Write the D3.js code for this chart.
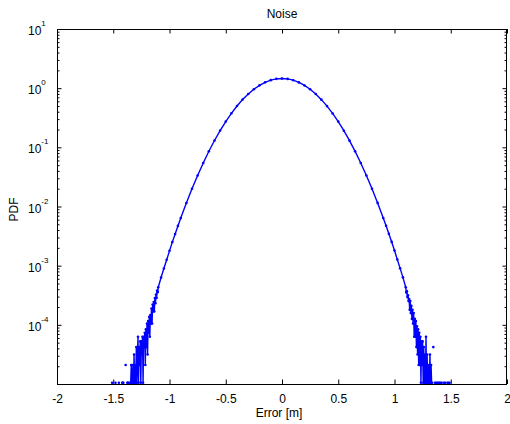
<!DOCTYPE html>
<html>
<head>
<meta charset="utf-8">
<script src="https://cdn.jsdelivr.net/npm/d3@7"></script>
<style>
	body { margin: 0; background: #fff; }
	svg { display: block; font-family: "Liberation Sans", Arial, sans-serif; }
</style>
</head>
<body>
<div id="chart"></div>
<script>
// Tick values
const xTicks = [-2, -1.5, -1, -0.5, 0, 0.5, 1, 1.5, 2]
const yTickExponents = [-4, -3, -2, -1, 0, 1]

// PDF samples: [error in m, pdf] (null = empty bin)
const leftTail = [
	[-1.51, 1.05e-5], [-1.5, null], [-1.48, 1.05e-5], [-1.47, null], [-1.45, 1.05e-5], [-1.44, null],
	[-1.42, 1.05e-5], [-1.415, 1.05e-5], [-1.41, 1.05e-5], [-1.4, null], [-1.39, 2.1e-5], [-1.385, null],
	[-1.375, 1.05e-5], [-1.37, 1.05e-5], [-1.365, 1.05e-5], [-1.36, null], [-1.35, 1.05e-5], [-1.345, 1.05e-5],
	[-1.34, 2.1e-5], [-1.335, 1.05e-5], [-1.33, 1.05e-5], [-1.325, 2.1e-5], [-1.32, 1.05e-5], [-1.315, 3.15e-5],
	[-1.31, 1.05e-5], [-1.305, 2.1e-5], [-1.3, 1.05e-5], [-1.295, 4.2e-5], [-1.29, 1.05e-5], [-1.285, 3.15e-5],
	[-1.28, 6.3e-5], [-1.275, 1.05e-5], [-1.27, 4.2e-5], [-1.265, 2.1e-5], [-1.26, 5.25e-5], [-1.255, 1.05e-5],
	[-1.25, 5.25e-5], [-1.245, 3.15e-5], [-1.24, 6.3e-5], [-1.235, 1.05e-5], [-1.23, 6.3e-5], [-1.225, 4.2e-5],
	[-1.22, 7.35e-5], [-1.215, 2.1e-5], [-1.21, 8.4e-5], [-1.205, 4.2e-5], [-1.2, 1.05e-4], [-1.195, 3.15e-5],
	[-1.19, 1.16e-4], [-1.185, 7.35e-5], [-1.18, 1.37e-4], [-1.175, 6.3e-5], [-1.17, 1.47e-4], [-1.165, 1.05e-4],
	[-1.16, 1.89e-4], [-1.155, 1.05e-4], [-1.15, 2.2e-4], [-1.145, 1.68e-4], [-1.14, 2.42e-4], [-1.135, 1.68e-4],
	[-1.13, 2.84e-4], [-1.125, 2.31e-4], [-1.12, 3.26e-4], [-1.115, 2.84e-4], [-1.11, 3.78e-4], [-1.105, 3.57e-4],
	[-1.1, 4.31e-4],
]

const body = [
	[-1.075, 6.3e-4], [-1.05, 8.95e-4], [-1.025, 1.26e-3], [-1, 1.78e-3], [-0.975, 2.5e-3], [-0.95, 3.42e-3],
	[-0.925, 4.7e-3], [-0.9, 6.37e-3], [-0.85, 1.146e-2], [-0.8, 1.99e-2], [-0.75, 3.35e-2], [-0.7, 5.45e-2],
	[-0.65, 8.57e-2], [-0.6, 0.1304], [-0.55, 0.192], [-0.5, 0.273], [-0.45, 0.375], [-0.4, 0.499],
	[-0.35, 0.642], [-0.3, 0.798], [-0.25, 0.96], [-0.2, 1.116], [-0.15, 1.255], [-0.1, 1.366],
	[-0.05, 1.436], [0, 1.46], [0.05, 1.434], [0.1, 1.364], [0.15, 1.252], [0.2, 1.112],
	[0.25, 0.957], [0.3, 0.796], [0.35, 0.64], [0.4, 0.498], [0.45, 0.374], [0.5, 0.272],
	[0.55, 0.191], [0.6, 0.1298], [0.65, 8.55e-2], [0.7, 5.44e-2], [0.75, 3.35e-2], [0.8, 1.99e-2],
	[0.85, 1.15e-2], [0.9, 6.4e-3], [0.925, 4.72e-3], [0.95, 3.45e-3], [0.975, 2.52e-3], [1, 1.8e-3],
	[1.025, 1.27e-3], [1.05, 9e-4], [1.075, 6.35e-4],
]

const rightTail = [
	[1.1, 4.31e-4], [1.105, 3.57e-4], [1.11, 3.68e-4], [1.115, 2.94e-4], [1.12, 3.15e-4], [1.125, 2.52e-4],
	[1.13, 2.73e-4], [1.135, 1.79e-4], [1.14, 2.52e-4], [1.145, 1.58e-4], [1.15, 2.1e-4], [1.155, 1.26e-4],
	[1.16, 1.79e-4], [1.165, 1.05e-4], [1.17, 1.58e-4], [1.175, 6.3e-5], [1.18, 1.26e-4], [1.185, 6.3e-5],
	[1.19, 1.16e-4], [1.195, 4.2e-5], [1.2, 9.45e-5], [1.205, 3.15e-5], [1.21, 8.4e-5], [1.215, 2.1e-5],
	[1.22, 7.35e-5], [1.225, 2.1e-5], [1.23, 6.3e-5], [1.235, 1.05e-5], [1.24, 5.25e-5], [1.245, 2.1e-5],
	[1.25, 5.25e-5], [1.255, 1.05e-5], [1.26, 4.2e-5], [1.265, 1.05e-5], [1.27, 3.15e-5], [1.275, 1.05e-5],
	[1.28, 6.3e-5], [1.285, 1.05e-5], [1.29, 3.15e-5], [1.295, 1.05e-5], [1.3, 2.1e-5], [1.305, 1.05e-5],
	[1.31, 1.05e-5], [1.315, 3.15e-5], [1.32, 1.05e-5], [1.325, 2.1e-5], [1.33, 1.05e-5], [1.335, 1.05e-5],
	[1.34, null], [1.345, 4.2e-5], [1.35, null], [1.36, 1.05e-5], [1.37, 1.05e-5], [1.38, 1.05e-5],
	[1.39, 1.05e-5], [1.4, 1.05e-5], [1.41, 1.05e-5], [1.42, 1.05e-5], [1.43, null], [1.44, 1.05e-5],
	[1.45, 1.05e-5], [1.46, null], [1.47, 1.05e-5], [1.48, 1.05e-5], [1.49, 1.05e-5],
]

const pdfData = leftTail.concat(body, rightTail)

function renderNoiseChart() {
	const width = 510
	const height = 424
	const margin = { top: 29, right: 3, bottom: 40, left: 57 }
	const innerLeft = margin.left
	const innerRight = width - margin.right
	const innerTop = margin.top
	const innerBottom = height - margin.bottom
	const fontSize = "12px"

	const svg = d3
		.select("#chart")
		.append("svg")
		.attr("width", width)
		.attr("height", height)

	const x = d3.scaleLinear().domain([-2, 2]).range([innerLeft, innerRight])
	const y = d3.scaleLog().domain([1e-5, 10]).range([innerBottom, innerTop])

	// Minor log ticks (2..9 of each decade)
	const minorTicks = []
	for (let e = -5; e < 1; e++) {
		for (let m = 2; m <= 9; m++) minorTicks.push(m * Math.pow(10, e))
	}

	// Bottom and top x ticks (inside)
	const xAxisBottom = svg.append("g")
		.attr("transform", `translate(0,${innerBottom})`)
		.call(d3.axisBottom(x).tickValues(xTicks).tickSizeInner(-4.5).tickSizeOuter(0).tickPadding(10).tickFormat((d) => d))
	xAxisBottom.select(".domain").remove()

	svg.append("g")
		.attr("transform", `translate(0,${innerTop})`)
		.call(d3.axisTop(x).tickValues(xTicks).tickSizeInner(-4.5).tickSizeOuter(0).tickFormat(""))
		.select(".domain").remove()

	// Left and right y ticks (inside)
	const decades = yTickExponents.map((e) => Math.pow(10, e))
	svg.append("g")
		.attr("transform", `translate(${innerLeft},0)`)
		.call(d3.axisLeft(y).tickValues(decades).tickSizeInner(-4.5).tickSizeOuter(0).tickFormat(""))
		.select(".domain").remove()
	svg.append("g")
		.attr("transform", `translate(${innerLeft},0)`)
		.call(d3.axisLeft(y).tickValues(minorTicks).tickSizeInner(-2.5).tickSizeOuter(0).tickFormat(""))
		.select(".domain").remove()
	svg.append("g")
		.attr("transform", `translate(${innerRight},0)`)
		.call(d3.axisRight(y).tickValues(decades).tickSizeInner(-4.5).tickSizeOuter(0).tickFormat(""))
		.select(".domain").remove()
	svg.append("g")
		.attr("transform", `translate(${innerRight},0)`)
		.call(d3.axisRight(y).tickValues(minorTicks).tickSizeInner(-2.5).tickSizeOuter(0).tickFormat(""))
		.select(".domain").remove()

	svg.selectAll(".tick line").attr("stroke", "#000").attr("stroke-width", 1)
	xAxisBottom.selectAll("text")
		.attr("fill", "#000")
		.style("font-size", fontSize)
		.style("font-family", "'Liberation Sans', Arial, sans-serif")

	// Y tick labels as 10^n
	const yLabels = svg.append("g")
	yTickExponents.forEach((e) => {
		const yy = y(Math.pow(10, e))
		const t = yLabels.append("text")
			.attr("x", 28)
			.attr("y", yy + 6)
			.attr("fill", "#000")
			.style("font-size", fontSize)
		t.append("tspan").text("10")
		t.append("tspan")
			.attr("dy", -9)
			.style("font-size", "8px")
			.text(String(e))
	})

	// Box
	svg.append("rect")
		.attr("x", innerLeft + 0.5)
		.attr("y", innerTop + 0.5)
		.attr("width", innerRight - innerLeft - 1)
		.attr("height", innerBottom - innerTop)
		.attr("fill", "none")
		.attr("stroke", "#000")
		.attr("stroke-width", 1)

	// Clip to plot area
	svg.append("clipPath")
		.attr("id", "plot-clip")
		.append("rect")
		.attr("x", innerLeft)
		.attr("y", innerTop)
		.attr("width", innerRight - innerLeft)
		.attr("height", innerBottom - innerTop)

	const plot = svg.append("g").attr("clip-path", "url(#plot-clip)")

	const pdfLine = d3
		.line()
		.defined((d) => d[1] !== null)
		.x((d) => x(d[0]))
		.y((d) => y(d[1]))

	plot.append("path")
		.datum(pdfData)
		.attr("fill", "none")
		.attr("stroke", "#0000ff")
		.attr("stroke-width", 1.4)
		.attr("d", pdfLine)

	plot.selectAll("circle")
		.data(pdfData.filter((d) => d[1] !== null))
		.join("circle")
		.attr("cx", (d) => x(d[0]))
		.attr("cy", (d) => y(d[1]))
		.attr("r", 1.3)
		.attr("fill", "#0000ff")

	// Title and labels
	svg.append("text")
		.attr("x", (innerLeft + innerRight) / 2)
		.attr("y", 18)
		.attr("text-anchor", "middle")
		.style("font-size", fontSize)
		.text("Noise")

	svg.append("text")
		.attr("x", (innerLeft + innerRight) / 2 - 3)
		.attr("y", 417)
		.attr("text-anchor", "middle")
		.style("font-size", fontSize)
		.text("Error [m]")

	svg.append("text")
		.attr("transform", `translate(18,${(innerTop + innerBottom) / 2 + 3}) rotate(-90)`)
		.attr("text-anchor", "middle")
		.style("font-size", fontSize)
		.text("PDF")
}

renderNoiseChart()
</script>
</body>
</html>
